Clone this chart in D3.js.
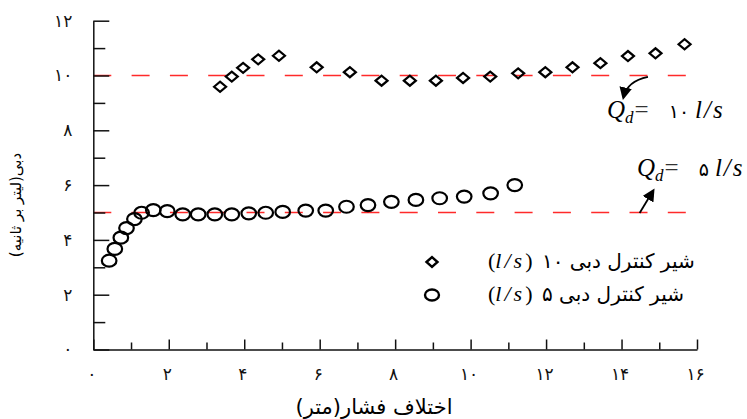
<!DOCTYPE html>
<html>
<head>
<meta charset="utf-8">
<script src="https://cdn.jsdelivr.net/npm/d3@7"></script>
<style>
  body { margin: 0; background: #fff; }
  svg { display: block; }
  .tick text { font-family: "DejaVu Sans", sans-serif; font-size: 17px; fill: #111; }
</style>
</head>
<body>
<div id="chart"></div>
<script>
// 10 l/s valve (diamonds)
const valve10X = [3.36, 3.67, 3.97, 4.37, 4.92, 5.92, 6.80, 7.64, 8.39, 9.08, 9.80, 10.52, 11.26, 11.98, 12.70, 13.44, 14.17, 14.90, 15.67];
const valve10Y = [9.59, 9.96, 10.28, 10.59, 10.72, 10.30, 10.12, 9.81, 9.81, 9.81, 9.91, 9.96, 10.08, 10.12, 10.30, 10.45, 10.71, 10.81, 11.14];
// 5 l/s valve (circles)
const valve5X = [0.42, 0.57, 0.73, 0.88, 1.09, 1.28, 1.59, 1.96, 2.37, 2.78, 3.22, 3.67, 4.12, 4.57, 5.02, 5.63, 6.16, 6.71, 7.28, 7.90, 8.55, 9.18, 9.83, 10.53, 11.17];
const valve5Y = [3.24, 3.67, 4.08, 4.43, 4.76, 4.99, 5.09, 5.05, 4.93, 4.93, 4.93, 4.93, 4.97, 4.99, 5.02, 5.07, 5.07, 5.21, 5.27, 5.39, 5.46, 5.52, 5.58, 5.70, 6.00];

const designFlows = [10, 5];          // Qd reference lines
const xMajor = [0, 2, 4, 6, 8, 10, 12, 14, 16];
const xMinor = [1, 3, 5, 7, 9, 11, 13, 15];
const yMajor = [0, 2, 4, 6, 8, 10, 12];
const yMinor = [1, 3, 5, 7, 9, 11];

const xTitle = "اختلاف فشار(متر)";
const yTitle = "دبی(لیتر بر ثانیه)";
const legendText = ["شیر کنترل دبی ۱۰", "شیر کنترل دبی ۵"];

const width = 747, height = 419;
const fa = n => String(n).replace(/\d/g, d => "۰۱۲۳۴۵۶۷۸۹"[d]);

const svg = d3.select("#chart").append("svg")
    .attr("width", width)
    .attr("height", height);

const x = d3.scaleLinear().domain([0, 16]).range([93.3, 697]);
const y = d3.scaleLinear().domain([0, 12]).range([349.5, 20.7]);

// dashed design flow lines
svg.append("g")
    .selectAll("line")
    .data(designFlows)
    .join("line")
    .attr("x1", x(0))
    .attr("x2", x(15.75))
    .attr("y1", d => y(d))
    .attr("y2", d => y(d))
    .attr("stroke", "#ff2a2a")
    .attr("stroke-width", 1.3)
    .attr("stroke-dasharray", "18,20.3");

// axes
const gx = svg.append("g").attr("transform", `translate(0,${y(0)})`);
gx.call(d3.axisBottom(x).tickValues(xMajor).tickSize(-10).tickSizeOuter(0).tickPadding(18).tickFormat(fa));
gx.append("g").call(d3.axisBottom(x).tickValues(xMinor).tickSize(-7).tickSizeOuter(0).tickFormat(""))
    .select(".domain").remove();

const gy = svg.append("g").attr("transform", `translate(${x(0)},0)`);
gy.call(d3.axisLeft(y).tickValues(yMajor).tickSize(-16).tickSizeOuter(0).tickPadding(21).tickFormat(fa));
gy.append("g").call(d3.axisLeft(y).tickValues(yMinor).tickSize(-12).tickSizeOuter(0).tickFormat(""))
    .select(".domain").remove();

svg.selectAll(".domain, .tick line").attr("stroke", "#111").attr("stroke-width", 1.5);
gx.selectAll(".tick text").attr("dx", -2);

// axis titles
svg.append("text")
    .attr("x", 374)
    .attr("y", 414)
    .attr("text-anchor", "middle")
    .style("font-family", "DejaVu Sans")
    .style("font-size", "21px")
    .text(xTitle);

svg.append("text")
    .attr("transform", "translate(21,205) rotate(-90)")
    .attr("text-anchor", "middle")
    .style("font-family", "DejaVu Sans")
    .style("font-size", "15px")
    .text(yTitle);

// markers
const diamond = (cx, cy, w, h) => `M${cx - w},${cy}L${cx},${cy - h}L${cx + w},${cy}L${cx},${cy + h}Z`;

svg.append("g")
    .selectAll("path")
    .data(d3.zip(valve10X, valve10Y))
    .join("path")
    .attr("d", d => diamond(x(d[0]), y(d[1]), 6, 5))
    .attr("fill", "none")
    .attr("stroke", "#000")
    .attr("stroke-width", 2.2);

svg.append("g")
    .selectAll("ellipse")
    .data(d3.zip(valve5X, valve5Y))
    .join("ellipse")
    .attr("cx", d => x(d[0]))
    .attr("cy", d => y(d[1]))
    .attr("rx", 7.3)
    .attr("ry", 6)
    .attr("fill", "none")
    .attr("stroke", "#000")
    .attr("stroke-width", 2.2);

// legend
const legend = svg.append("g");
legend.append("path")
    .attr("d", diamond(432, 262, 5.5, 5))
    .attr("fill", "none").attr("stroke", "#000").attr("stroke-width", 2.4);
legend.append("ellipse")
    .attr("cx", 432).attr("cy", 295).attr("rx", 7).attr("ry", 5.5)
    .attr("fill", "none").attr("stroke", "#000").attr("stroke-width", 2.4);

legendText.forEach((t, i) => {
    const ly = 268 + i * 33;
    legend.append("text")
        .attr("x", 488).attr("y", ly)
        .style("font-family", "Liberation Serif")
        .style("font-size", "22px")
        .html('(<tspan font-style="italic" letter-spacing="3">l/s</tspan>)');
    legend.append("text")
        .attr("x", 542).attr("y", ly)
        .style("font-family", "DejaVu Sans")
        .style("font-size", "20px")
        .text(t);
});

// Qd annotations
svg.append("defs").append("marker")
    .attr("id", "head")
    .attr("viewBox", "0 0 10 10")
    .attr("refX", 8).attr("refY", 5)
    .attr("markerWidth", 7).attr("markerHeight", 7)
    .attr("orient", "auto")
    .append("path")
    .attr("d", "M0,0L10,5L0,10Z")
    .attr("fill", "#000");

function qLabel(px, py, val) {
    const t = svg.append("text")
        .attr("x", px).attr("y", py)
        .style("font-family", "Liberation Serif")
        .style("font-size", "25px");
    t.append("tspan").attr("font-style", "italic").text("Q");
    t.append("tspan").attr("font-style", "italic").attr("font-size", "17px").attr("dy", 5).text("d");
    t.append("tspan").attr("dy", -5).attr("dx", 1).attr("fill", "#333").text("=");
    t.append("tspan").style("font-family", "DejaVu Sans").attr("font-size", "19px").attr("dx", 20).text(fa(val));
    t.append("tspan").attr("font-style", "italic").attr("dx", 6).attr("letter-spacing", 2).text("l/s");
}

qLabel(607, 118, 10);
qLabel(637, 176, 5);

svg.append("path")
    .attr("d", `M${x(14.7)},${y(9.95)} Q${x(14.15)},${y(9.8)} ${x(14.05)},${y(9.2)}`)
    .attr("fill", "none").attr("stroke", "#000").attr("stroke-width", 1.8)
    .attr("marker-end", "url(#head)");

svg.append("path")
    .attr("d", `M${x(14.48)},${y(4.98)} L${x(14.84)},${y(5.8)}`)
    .attr("fill", "none").attr("stroke", "#000").attr("stroke-width", 1.8)
    .attr("marker-end", "url(#head)");
</script>
</body>
</html>
